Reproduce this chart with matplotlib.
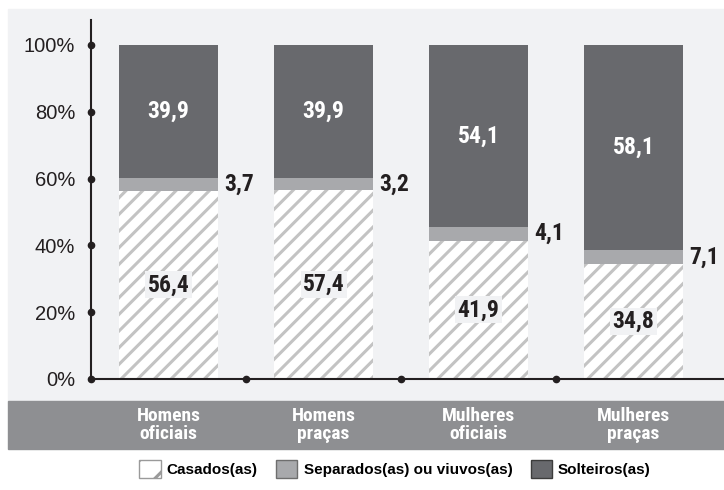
import matplotlib.pyplot as plt
from matplotlib.patches import Patch, Rectangle
import numpy as np

categorias = ["Homens\noficiais", "Homens\npraças", "Mulheres\noficiais", "Mulheres\npraças"]
# alturas como aparecem desenhadas no gráfico (em %)
casados = [56.4, 56.6, 41.4, 34.5]
separados = [3.7, 3.5, 4.2, 4.1]
solteiros = [39.9, 39.9, 54.4, 61.4]
# rótulos impressos
rotulos_casados = ["56,4", "57,4", "41,9", "34,8"]
rotulos_separados = ["3,7", "3,2", "4,1", "7,1"]
rotulos_solteiros = ["39,9", "39,9", "54,1", "58,1"]
y_ticks = [0, 20, 40, 60, 80, 100]
y_labels = ["0%", "20%", "40%", "60%", "80%", "100%"]

c_fundo = "#f1f2f4"
c_faixa = "#8e8f92"
c_escuro = "#68696d"
c_claro = "#a8a9ac"
c_hachura = "#c3c3c3"
c_eixo = "#231f20"

plt.rcParams["hatch.linewidth"] = 2.2
cond = ["Liberation Sans Narrow", "DejaVu Sans Condensed", "Roboto Condensed",
        "Roboto", "Liberation Sans"]

fig = plt.figure(figsize=(7.24, 4.90), dpi=100)
W, H = 724, 490

# painel claro e faixa cinza
fig.patches.append(Rectangle((8 / W, 1 - 401 / H), 1, (401 - 9) / H,
                             transform=fig.transFigure, color=c_fundo, zorder=-2))
fig.patches.append(Rectangle((8 / W, 1 - 449 / H), 1, 48 / H,
                             transform=fig.transFigure, color=c_faixa, zorder=-2))

ax = fig.add_axes([91 / W, 1 - 379 / H, (W - 91) / W, (379 - 20) / H])
ax.set_facecolor("none")

x = np.arange(len(categorias))
largura = 0.64
cas = np.array(casados)
sep = np.array(separados)
sol = np.array(solteiros)

ax.bar(x, cas, largura, color="white", edgecolor=c_hachura, linewidth=0, hatch="//", zorder=2)
ax.bar(x, sep, largura, bottom=cas, color=c_claro, linewidth=0, zorder=2)
ax.bar(x, sol, largura, bottom=cas + sep, color=c_escuro, linewidth=0, zorder=2)

ax.set_xlim(-0.5, -0.5 + (W - 91) / 155)
ax.set_ylim(0, 100 + 25 / 3.34)

for i in range(len(categorias)):
    ax.text(x[i], cas[i] / 2, rotulos_casados[i], ha="center", va="center",
            fontsize=17, fontweight="bold", family=cond, color="#231f20", zorder=4,
            bbox=dict(facecolor=c_fundo, edgecolor="none", pad=1.5))
    ax.text(x[i] + largura / 2 + 0.04, cas[i] + sep[i] / 2, rotulos_separados[i],
            ha="left", va="center", fontsize=17, fontweight="bold", family=cond,
            color="#231f20", zorder=4)
    ax.text(x[i], cas[i] + sep[i] + sol[i] / 2, rotulos_solteiros[i], ha="center",
            va="center", fontsize=17, fontweight="bold", family=cond, color="white",
            zorder=4)

# eixos
for s in ["top", "right", "bottom"]:
    ax.spines[s].set_visible(False)
ax.spines["left"].set_color(c_eixo)
ax.spines["left"].set_linewidth(1.5)
ax.axhline(0, color=c_eixo, linewidth=1.5, zorder=3, clip_on=False)
ax.plot([-0.5] * len(y_ticks), y_ticks, "o", color=c_eixo, markersize=4.5,
        clip_on=False, zorder=5)
ax.plot(x[:-1] + 0.5, [0] * (len(x) - 1), "o", color=c_eixo, markersize=4.5,
        clip_on=False, zorder=5)
ax.set_yticks(y_ticks)
ax.set_yticklabels(y_labels, fontsize=14.5, color="#231f20", family="Liberation Sans")
ax.tick_params(axis="y", length=0, pad=11.5)
ax.set_xticks([])

for i, nome in enumerate(categorias):
    fig.text((91 + 155 * (i + 0.5)) / W, 1 - 425 / H, nome, ha="center", va="center",
             fontsize=14, fontweight="bold", family=cond, color="white",
             linespacing=1.0)

handles = [Patch(facecolor="white", edgecolor="#9a9a9a", hatch="/", linewidth=1),
           Patch(facecolor=c_claro, edgecolor="#6e6e6e", linewidth=1),
           Patch(facecolor=c_escuro, edgecolor="#3c3c3c", linewidth=1)]
fig.legend(handles, ["Casados(as)", "Separados(as) ou viuvos(as)", "Solteiros(as)"],
           loc="center", bbox_to_anchor=(395 / W, 1 - 469 / H), ncol=3, frameon=False,
           prop={"family": "Liberation Sans", "weight": "bold", "size": 11},
           handlelength=1.4, handleheight=1.4, handletextpad=0.4, columnspacing=1.2)

fig.savefig("out.png", dpi=100, facecolor="white")
